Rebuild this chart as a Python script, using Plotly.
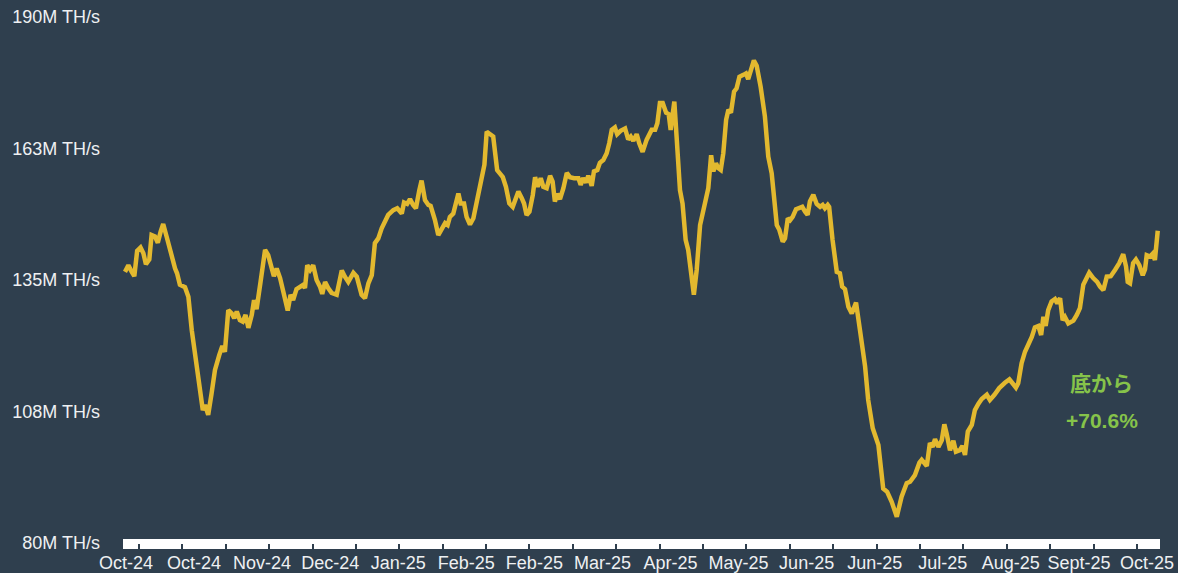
import plotly.graph_objects as go

# ハッシュレート推移（単位: M TH/s）。開始日からの経過日数と値
days = [
    0.0, 1.2, 2.4, 3.3, 4.3, 5.5, 6.5, 7.4, 8.6, 9.4, 10.6, 11.6, 12.6, 13.5, 14.7, 16.1,
    17.7, 18.4, 19.4, 21.2, 22.4, 23.6, 24.7, 25.9, 26.5, 27.5, 28.3, 29.4, 30.6, 31.8,
    33.3, 34.4, 35.3, 36.5, 37.7, 38.6, 39.5, 40.6, 41.6, 42.6, 43.6, 44.8, 45.6, 46.5,
    47.9, 49.5, 50.6, 51.8, 52.6, 53.6, 54.8, 56.2, 57.5, 58.5, 59.4, 60.6, 61.8, 63.0,
    63.6, 64.4, 65.4, 66.5, 67.7, 68.9, 69.7, 70.7, 71.8, 73.0, 74.8, 76.6, 77.7, 78.9,
    80.7, 81.9, 83.6, 84.8, 86.0, 87.2, 88.3, 89.5, 90.7, 91.9, 93.0, 94.8, 96.2, 97.8,
    98.6, 99.7, 100.7, 101.8, 102.8, 104.0, 104.8, 106.0, 107.2, 108.0, 109.5, 110.7,
    111.9, 113.1, 114.0, 114.8, 116.0, 117.8, 118.6, 119.8, 120.7, 121.9, 123.1, 124.3,
    126.0, 127.0, 127.8, 128.7, 130.1, 131.5, 132.5, 133.5, 134.6, 135.8, 137.0, 138.2,
    139.0, 140.2, 141.0, 141.9, 142.9, 144.1, 144.9, 145.8, 146.9, 147.8, 149.0, 150.2,
    151.1, 151.9, 152.7, 153.7, 154.9, 156.1, 157.2, 158.7, 160.2, 161.0, 161.9, 162.9,
    163.7, 164.9, 165.7, 166.9, 167.8, 169.0, 170.2, 171.1, 172.0, 173.1, 173.9, 175.1,
    176.7, 177.8, 178.7, 179.6, 180.8, 181.7, 182.9, 184.3, 186.1, 187.3, 188.1, 189.0,
    190.0, 191.2, 192.1, 192.8, 193.5, 194.1, 194.9, 196.1, 197.0, 198.1, 199.0, 200.2,
    201.0, 202.0, 203.2, 204.9, 206.1, 207.1, 207.9, 208.8, 209.6, 210.5, 211.4, 212.4,
    213.2, 214.1, 215.2, 216.1, 217.1, 218.5, 219.4, 220.2, 221.4, 222.2, 223.2, 224.6,
    226.1, 227.3, 228.5, 229.7, 230.3, 231.2, 232.4, 233.2, 234.2, 235.0, 235.9, 237.1,
    238.3, 239.3, 240.3, 241.2, 242.0, 243.2, 244.4, 245.6, 246.5, 247.3, 248.3, 248.8,
    250.0, 251.5, 252.6, 253.4, 254.4, 255.6, 256.8, 258.3, 259.7, 261.5, 262.6, 264.2,
    266.2, 267.1, 267.9, 269.3, 270.9, 272.7, 274.4, 276.2, 277.4, 279.1, 280.7, 281.5,
    283.3, 284.4, 285.4, 286.2, 287.4, 288.6, 289.5, 290.3, 291.5, 292.7, 293.6, 295.0,
    295.9, 296.8, 297.8, 299.2, 300.3, 301.5, 302.7, 304.5, 305.6, 307.2, 308.9, 310.9,
    312.5, 313.6, 314.8, 315.6, 316.8, 318.0, 319.2, 320.4, 321.5, 322.7, 323.7, 324.5,
    325.3, 326.2, 327.4, 328.6, 329.4, 330.4, 331.3, 332.1, 333.3, 335.1, 336.3, 337.4,
    338.6, 339.8, 340.7, 342.1, 343.5, 344.5, 345.7, 346.9, 348.3, 349.8, 351.3, 352.7,
    353.7, 354.3, 355.1, 356.2, 357.2, 358.4, 359.6, 360.4, 361.0, 362.2, 363.1, 363.9,
    364.9,
]
hashrate = [
    136.7, 138.1, 136.7, 135.8, 141.1, 141.8, 140.6, 138.3, 139.3, 144.4, 144.1, 142.8,
    145.1, 146.7, 144.1, 140.6, 137.4, 136.4, 134.0, 133.5, 131.5, 124.5, 119.7, 114.8,
    112.7, 107.8, 108.9, 106.8, 111.3, 116.2, 119.3, 121.2, 120.0, 128.7, 128.0, 127.0,
    128.4, 126.6, 126.3, 127.7, 125.0, 127.7, 130.8, 128.9, 134.6, 141.3, 140.2, 137.1,
    135.8, 137.4, 135.4, 131.9, 128.6, 131.9, 130.8, 133.1, 133.6, 134.0, 133.3, 138.1,
    137.1, 138.1, 135.0, 133.6, 132.1, 134.6, 133.3, 132.3, 131.9, 137.0, 135.7, 134.6,
    136.5, 135.7, 131.9, 131.2, 134.3, 136.0, 142.7, 143.7, 145.8, 147.2, 148.6, 149.6,
    150.0, 148.9, 151.2, 150.9, 151.9, 150.7, 150.0, 153.8, 155.8, 151.7, 150.7, 150.5,
    147.6, 144.4, 145.8, 146.9, 146.5, 148.2, 148.9, 153.1, 151.0, 151.0, 148.2, 146.6,
    147.9, 151.4, 157.0, 159.1, 166.0, 165.7, 165.0, 158.0, 157.3, 156.5, 154.5, 151.0,
    150.3, 152.1, 153.5, 152.1, 151.0, 148.6, 149.3, 152.8, 156.5, 154.5, 156.3, 154.5,
    154.2, 156.8, 155.6, 151.4, 153.0, 151.9, 154.2, 157.4, 156.5, 156.3, 156.3, 154.9,
    156.3, 155.4, 156.8, 154.7, 157.7, 158.0, 159.5, 160.1, 161.5, 163.6, 166.4, 166.9,
    165.5, 166.2, 166.7, 164.4, 165.0, 164.1, 165.5, 163.6, 161.8, 164.3, 166.4, 166.4,
    167.8, 172.0, 172.0, 170.0, 169.7, 166.4, 169.2, 172.3, 165.0, 153.8, 151.0, 143.4,
    141.3, 135.7, 131.9, 137.1, 146.5, 151.0, 154.2, 161.1, 157.7, 159.4, 158.4, 158.0,
    161.5, 168.5, 170.6, 170.0, 174.4, 175.1, 177.5, 177.9, 178.2, 177.0, 179.3, 180.9,
    179.8, 175.4, 169.2, 160.8, 157.3, 149.6, 146.5, 145.5, 143.0, 143.7, 147.9, 147.5,
    148.2, 149.8, 150.0, 150.3, 149.3, 148.6, 151.4, 152.8, 150.9, 150.3, 150.7, 150.0,
    150.7, 150.3, 143.4, 136.7, 136.4, 133.6, 133.1, 129.4, 128.0, 130.3, 124.5, 116.9,
    109.9, 104.0, 100.5, 94.6, 91.4, 90.7, 88.6, 85.5, 89.7, 92.5, 92.8, 94.2,
    96.8, 97.4, 96.1, 100.9, 100.1, 101.7, 100.1, 101.5, 104.8, 102.9, 99.4, 101.4,
    99.1, 99.4, 100.3, 98.4, 103.3, 104.7, 107.8, 109.1, 110.1, 111.0, 109.9, 111.0,
    112.4, 113.5, 114.2, 113.4, 112.5, 113.4, 117.6, 120.0, 121.4, 123.1, 125.1, 125.4,
    123.5, 127.3, 125.4, 128.7, 130.5, 131.0, 130.1, 131.2, 126.6, 127.3, 125.9, 126.5,
    127.7, 129.1, 134.0, 135.6, 136.5, 135.4, 134.6, 133.6, 132.9, 135.7, 135.8, 137.1,
    138.5, 140.4, 137.8, 134.6, 134.3, 138.5, 139.3, 138.1, 136.0, 137.2, 140.2, 139.9,
    140.5, 139.2, 145.3,
]

x_labels = ["Oct-24", "Oct-24", "Nov-24", "Dec-24", "Jan-25", "Feb-25", "Feb-25", "Mar-25",
            "Apr-25", "May-25", "Jun-25", "Jun-25", "Jul-25", "Aug-25", "Sept-25", "Oct-25"]
y_vals = [80, 107.5, 135, 162.5, 190]
y_labels = ["80M TH/s", "108M TH/s", "135M TH/s", "163M TH/s", "190M TH/s"]
note_lines = ["底から", "+70.6%"]

BG = "#2f3f4e"
LINE = "#e3b92f"
GREEN = "#86c34a"
TEXT = "#eef0f2"
FONT = "Liberation Sans, Arial, Noto Sans CJK JP, sans-serif"

label_pos = [0.35 + 24.05 * i for i in range(len(x_labels))]
minor_pos = [4.95 + 15.33 * i for i in range(24)]

fig = go.Figure()
fig.add_trace(go.Scatter(
    x=days, y=hashrate, mode="lines",
    line=dict(color=LINE, width=4.5), hoverinfo="skip", showlegend=False,
))

# 白い太いx軸バー（目盛りは背景色で切り欠き）
fig.add_shape(
    type="rect", xref="paper", x0=0, x1=1, yref="paper", ysizemode="pixel",
    yanchor=0, y0=4, y1=-6, fillcolor="white", line=dict(width=0), layer="below",
)

# 注記（底からの上昇率）
for text, ypos in zip(note_lines, [0.303, 0.232]):
    fig.add_annotation(x=0.944, y=ypos, xref="paper", yref="paper", text=text,
                       xanchor="center", yanchor="middle", showarrow=False,
                       font=dict(size=21, color=GREEN, family=FONT, weight="bold"))

fig.update_layout(
    width=1178, height=573,
    paper_bgcolor=BG, plot_bgcolor=BG,
    margin=dict(l=123, r=18, t=17, b=30),
    font=dict(family=FONT, size=18, color=TEXT),
)
fig.update_xaxes(
    range=[-0.7, 365.7], showgrid=False, zeroline=False, showline=False, automargin=False,
    tickmode="array", tickvals=label_pos, ticktext=x_labels, ticks="",
    tickfont=dict(size=18, color=TEXT), ticklabelstandoff=7,
    minor=dict(tickmode="array", tickvals=minor_pos, ticks="outside",
               ticklen=7, tickwidth=2, tickcolor=BG),
)
fig.update_yaxes(
    range=[80, 190], showgrid=False, zeroline=False, showline=False, automargin=False,
    tickmode="array", tickvals=y_vals, ticktext=y_labels, ticks="",
    tickfont=dict(size=18, color=TEXT), ticklabelstandoff=22,
)

fig.write_html(
    "out.html",
    config={"displayModeBar": False},
    post_script="document.body.style.margin='0';document.body.style.overflow='hidden';",
)
